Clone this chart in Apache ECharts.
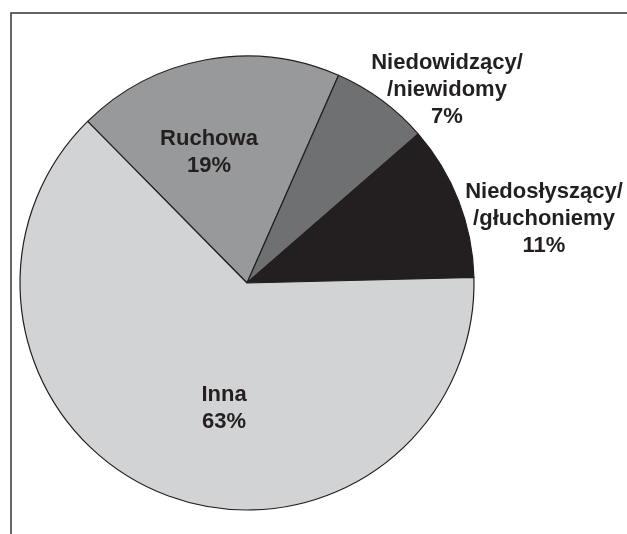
<!DOCTYPE html>
<html>
<head>
<meta charset="utf-8">
<script src="https://cdn.jsdelivr.net/npm/echarts@6/dist/echarts.min.js"></script>
<style>
  html, body { margin: 0; padding: 0; background: #fff; }
  #chart { width: 627px; height: 534px; }
</style>
</head>
<body>
<div id="chart"></div>
<script>
const categories = ['Ruchowa', 'Niedowidzący/\n/niewidomy', 'Niedosłyszący/\n/głuchoniemy', 'Inna']
const shares = [19, 7, 11, 63]
const sliceColors = ['#98999b', '#6f7072', '#231f20', '#d2d3d5']
// label centres in px, one per slice
const labelSpots = [[209, 152], [447, 90], [544, 219], [224, 408]]

const chart = echarts.init(document.getElementById('chart'), null, { renderer: 'canvas' })

chart.setOption({
  animation: false,
  graphic: [{
    type: 'polyline',
    shape: { points: [[11, 534], [11, 13], [627, 13]] },
    style: { stroke: '#333', lineWidth: 1.5, fill: null }
  }],
  series: [{
    type: 'pie',
    center: [247, 283],
    radius: 227,
    startAngle: 134.6,
    clockwise: true,
    silent: true,
    emphasis: { disabled: true },
    itemStyle: { borderColor: '#231f20', borderWidth: 1.2 },
    label: {
      show: true,
      position: 'inside',
      formatter: p => p.name + '\n' + p.value + '%',
      fontFamily: 'Liberation Sans, Arial, sans-serif',
      fontWeight: 'bold',
      fontSize: 22,
      lineHeight: 27,
      color: '#231f20',
      align: 'center'
    },
    labelLine: { show: false },
    labelLayout: p => ({
      x: labelSpots[p.dataIndex][0],
      y: labelSpots[p.dataIndex][1],
      align: 'center',
      verticalAlign: 'middle'
    }),
    data: categories.map((c, i) => ({
      name: c,
      value: shares[i],
      itemStyle: { color: sliceColors[i] }
    }))
  }]
})
</script>
</body>
</html>
